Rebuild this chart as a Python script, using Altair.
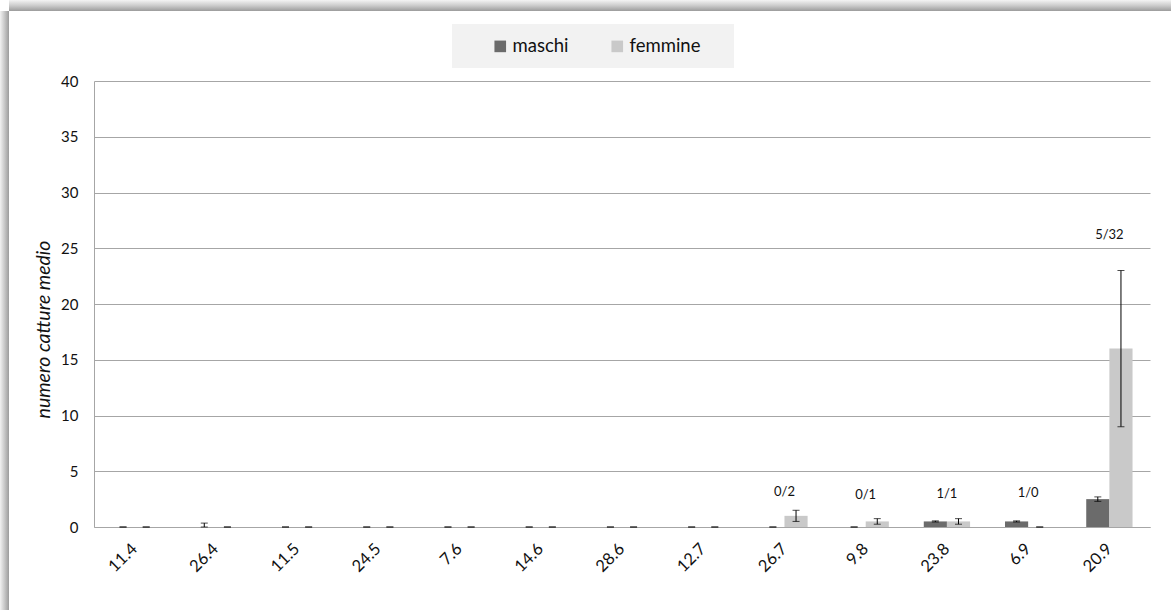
import altair as alt
import pandas as pd

# Mean catches per site (x labels), males and females, with error bars
categories = ["11.4", "26.4", "11.5", "24.5", "7.6", "14.6", "28.6",
              "12.7", "26.7", "9.8", "23.8", "6.9", "20.9"]
maschi_mean = [0, 0, 0, 0, 0, 0, 0, 0, 0, 0, 0.5, 0.5, 2.5]
maschi_err = [0, 0.35, 0, 0, 0, 0, 0, 0, 0, 0, 0.05, 0.05, 0.2]
femmine_mean = [0, 0, 0, 0, 0, 0, 0, 0, 1.0, 0.5, 0.5, 0, 16]
femmine_err = [0, 0, 0, 0, 0, 0, 0, 0, 0.5, 0.25, 0.25, 0, 7]

# Total counts (males/females) written above some groups
count_sites = ["26.7", "9.8", "23.8", "6.9", "20.9"]
count_labels = ["0/2", "0/1", "1/1", "1/0", "5/32"]
count_y = [3.1, 2.9, 2.95, 3.05, 26.2]

sexes = ["maschi", "femmine"]
colors = ["#6b6b6b", "#c9c9c9"]

rows = []
for sex, means, errs in [("maschi", maschi_mean, maschi_err),
                         ("femmine", femmine_mean, femmine_err)]:
    for c, m, e in zip(categories, means, errs):
        rows.append({"sito": c, "sesso": sex, "media": m,
                     "lo": max(0.0, m - e), "hi": m + e})
df = pd.DataFrame(rows)
labels_df = pd.DataFrame({"sito": count_sites, "testo": count_labels, "y": count_y})

FONT = "Lato"
W, H = 1056, 446

x_scale = alt.Scale(paddingInner=0.43, paddingOuter=0.215)
x_enc = alt.X("sito:N", sort=categories, scale=x_scale,
              axis=alt.Axis(title=None, labelAngle=-45, labelAlign="right",
                            labelBaseline="middle", labelPadding=19,
                            labelFontSize=16.5, labelColor="#111111",
                            ticks=False, domainColor="#a6a6a6", grid=False))
x_plain = alt.X("sito:N", sort=categories)
xoff = alt.XOffset("sesso:N", sort=sexes, scale=alt.Scale(paddingInner=0))
y_scale = alt.Scale(domain=[0, 40], nice=False)

bars = alt.Chart(df).mark_bar().encode(
    x=x_enc,
    xOffset=xoff,
    y=alt.Y("media:Q", scale=y_scale,
            axis=alt.Axis(title="numero catture medio", values=list(range(0, 41, 5)),
                          labelFontSize=15, labelColor="#111111", labelPadding=16,
                          ticks=False, domainColor="#a6a6a6",
                          gridColor="#a6a6a6", gridWidth=1,
                          titleFont=FONT, titleFontStyle="italic",
                          titleFontWeight="normal", titleFontSize=19.5,
                          titleColor="#111111", titleAngle=-90,
                          titleX=-51, titleY=248, titleAlign="center",
                          titleBaseline="middle")),
    color=alt.Color("sesso:N", scale=alt.Scale(domain=sexes, range=colors),
                    legend=alt.Legend(title=None, orient="none", direction="horizontal",
                                      legendX=397, legendY=-44, symbolType="square",
                                      symbolSize=135, symbolStrokeWidth=0,
                                      labelFontSize=18.5, labelFont=FONT,
                                      labelColor="#111111", labelOffset=3,
                                      columnPadding=39, padding=0)),
)

err_rule = alt.Chart(df).mark_rule(color="#000000", strokeWidth=1).encode(
    x=x_plain, xOffset=xoff,
    y=alt.Y("lo:Q", scale=y_scale), y2="hi:Q",
)
cap_lo = alt.Chart(df).mark_tick(color="#000000", thickness=1, size=7).encode(
    x=x_plain, xOffset=xoff,
    y=alt.Y("lo:Q", scale=y_scale),
)
cap_hi = alt.Chart(df).mark_tick(color="#000000", thickness=1, size=7).encode(
    x=x_plain, xOffset=xoff,
    y=alt.Y("hi:Q", scale=y_scale),
)

counts = alt.Chart(labels_df).mark_text(font=FONT, fontSize=13, color="#111111",
                                        baseline="middle").encode(
    x=x_plain,
    y=alt.Y("y:Q", scale=y_scale),
    text="testo:N",
)

one = pd.DataFrame({"k": [0]})

# legend background box
legend_box = alt.Chart(one).mark_rect(fill="#f2f2f2").encode(
    x=alt.value(358), x2=alt.value(640), y=alt.value(-57), y2=alt.value(-13))

# drop shadow of the chart frame along the left and top edges
shade_left = alt.Chart(one).mark_rect(
    fill=alt.Gradient(gradient="linear", x1=0, x2=1, y1=0, y2=0,
                      stops=[alt.GradientStop(color="#f2f2f2", offset=0),
                             alt.GradientStop(color="#c8c8c8", offset=0.5),
                             alt.GradientStop(color="#9c9c9c", offset=1)])
).encode(x=alt.value(-94), x2=alt.value(-85), y=alt.value(-70), y2=alt.value(529))
shade_top = alt.Chart(one).mark_rect(
    fill=alt.Gradient(gradient="linear", x1=0, x2=0, y1=0, y2=1,
                      stops=[alt.GradientStop(color="#f4f4f4", offset=0),
                             alt.GradientStop(color="#cccccc", offset=0.5),
                             alt.GradientStop(color="#9c9c9c", offset=1)])
).encode(x=alt.value(-85), x2=alt.value(1077), y=alt.value(-81), y2=alt.value(-70))

chart = alt.layer(
    shade_left, shade_top, legend_box, bars, err_rule, cap_lo, cap_hi, counts
).properties(
    width=W, height=H,
    autosize=alt.AutoSizeParams(type="none"),
    padding={"left": 94, "top": 81, "right": 21, "bottom": 83},
    background="white",
).configure(font=FONT).configure_view(stroke="transparent", strokeWidth=0)

chart.save("out.html", embed_options={"renderer": "svg", "actions": False})
